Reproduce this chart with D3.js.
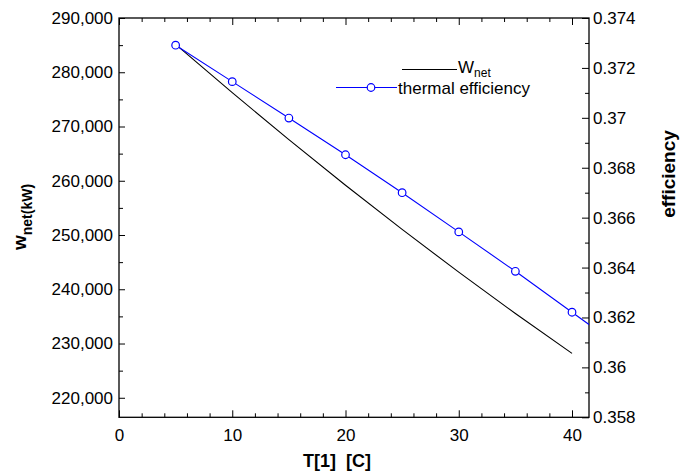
<!DOCTYPE html>
<html>
<head>
<meta charset="utf-8">
<script src="https://cdn.jsdelivr.net/npm/d3@7/dist/d3.min.js"></script>
<style>
  html, body { margin: 0; padding: 0; background: #fff; }
  svg { display: block; font-family: "Liberation Sans", Arial, sans-serif; }
</style>
</head>
<body>
<svg id="chart" width="686" height="472"></svg>
<script>
// ---- data ----
const temps = [5, 10, 15, 20, 25, 30, 35, 40];
const wNet = [285150, 276230, 267570, 259170, 251030, 243150, 235530, 228180];
const effTemps = [5, 10, 15, 20, 25, 30, 35, 40, 45];
const efficiency = [0.37291, 0.37145, 0.36999, 0.36852, 0.36700, 0.36543, 0.36385, 0.36221, 0.36057];

const xTicks = [0, 10, 20, 30, 40];
const xMinorTicks = [2, 4, 6, 8, 12, 14, 16, 18, 22, 24, 26, 28, 32, 34, 36, 38];
const yLeftTicks = [220000, 230000, 240000, 250000, 260000, 270000, 280000, 290000];
const yLeftTickLabels = ["220,000", "230,000", "240,000", "250,000", "260,000", "270,000", "280,000", "290,000"];
const yLeftMinorTicks = [225000, 235000, 245000, 255000, 265000, 275000, 285000];
const yRightTicks = [0.358, 0.360, 0.362, 0.364, 0.366, 0.368, 0.370, 0.372, 0.374];
const yRightTickLabels = ["0.358", "0.36", "0.362", "0.364", "0.366", "0.368", "0.37", "0.372", "0.374"];
const yRightMinorTicks = [0.359, 0.361, 0.363, 0.365, 0.367, 0.369, 0.371, 0.373];

const seriesNames = ["W", "thermal efficiency"];

// ---- layout ----
const L = 119, T = 18, R = 589, B = 417.3;
const svg = d3.select("#chart");

const x = d3.scaleLinear().domain([0, 41.5]).range([L, R]);
const yL = d3.scaleLinear().domain([216400, 290000]).range([B, T]);
const yR = d3.scaleLinear().domain([0.358, 0.374]).range([B, T]);

const FS = 17;

function styleAxis(g) {
  g.selectAll("path.domain").remove();
  g.selectAll(".tick line").attr("stroke", "#000").attr("stroke-width", 1);
  g.selectAll(".tick text").attr("font-size", FS).attr("fill", "#000")
    .attr("font-family", "'Liberation Sans', Arial, sans-serif");
}

// bottom axis
svg.append("g").attr("transform", `translate(0,${B})`)
  .call(d3.axisBottom(x).tickValues(xTicks).tickSize(-7).tickPadding(12).tickFormat(d3.format("d")))
  .call(styleAxis);
svg.append("g").attr("transform", `translate(0,${B})`)
  .call(d3.axisBottom(x).tickValues(xMinorTicks).tickSize(-4).tickFormat(""))
  .call(styleAxis);
// top axis
svg.append("g").attr("transform", `translate(0,${T})`)
  .call(d3.axisTop(x).tickValues(xTicks).tickSize(-7).tickFormat(""))
  .call(styleAxis);
svg.append("g").attr("transform", `translate(0,${T})`)
  .call(d3.axisTop(x).tickValues(xMinorTicks).tickSize(-4).tickFormat(""))
  .call(styleAxis);
// left axis
svg.append("g").attr("transform", `translate(${L},0)`)
  .call(d3.axisLeft(yL).tickValues(yLeftTicks).tickSize(-6).tickPadding(6)
    .tickFormat((d, i) => yLeftTickLabels[i]))
  .call(styleAxis);
svg.append("g").attr("transform", `translate(${L},0)`)
  .call(d3.axisLeft(yL).tickValues(yLeftMinorTicks).tickSize(-4).tickFormat(""))
  .call(styleAxis);
// right axis
svg.append("g").attr("transform", `translate(${R},0)`)
  .call(d3.axisRight(yR).tickValues(yRightTicks).tickSize(-7).tickPadding(4)
    .tickFormat((d, i) => yRightTickLabels[i]))
  .call(styleAxis);
svg.append("g").attr("transform", `translate(${R},0)`)
  .call(d3.axisRight(yR).tickValues(yRightMinorTicks).tickSize(-4).tickFormat(""))
  .call(styleAxis);

// frame
svg.append("rect").attr("x", L).attr("y", T).attr("width", R - L).attr("height", B - T)
  .attr("fill", "none").attr("stroke", "#000").attr("stroke-width", 1.3);

// clip
svg.append("clipPath").attr("id", "plotclip").append("rect")
  .attr("x", L).attr("y", T).attr("width", R - L).attr("height", B - T);

const plot = svg.append("g").attr("clip-path", "url(#plotclip)");

// W_net line
plot.append("path")
  .datum(temps.map((t, i) => [t, wNet[i]]))
  .attr("fill", "none").attr("stroke", "#000").attr("stroke-width", 1.1)
  .attr("d", d3.line().x(d => x(d[0])).y(d => yL(d[1])));

// efficiency line
const effData = effTemps.map((t, i) => [t, efficiency[i]]);
plot.append("path")
  .datum(effData)
  .attr("fill", "none").attr("stroke", "#0000ff").attr("stroke-width", 1.1)
  .attr("d", d3.line().x(d => x(d[0])).y(d => yR(d[1])));
plot.selectAll("circle.m").data(effData).enter().append("circle")
  .attr("class", "m")
  .attr("cx", d => x(d[0])).attr("cy", d => yR(d[1])).attr("r", 3.8)
  .attr("fill", "#fff").attr("stroke", "#0000ff").attr("stroke-width", 1.2);

// legend
const lg = svg.append("g");
lg.append("line").attr("x1", 402).attr("x2", 457).attr("y1", 69.5).attr("y2", 69.5)
  .attr("stroke", "#000").attr("stroke-width", 1.1);
const t1 = lg.append("text").attr("x", 458).attr("y", 73).attr("font-size", FS).attr("fill", "#000");
t1.append("tspan").text(seriesNames[0]);
t1.append("tspan").attr("font-size", 12).attr("dy", 3.5).text("net");

lg.append("line").attr("x1", 336).attr("x2", 397).attr("y1", 87.5).attr("y2", 87.5)
  .attr("stroke", "#0000ff").attr("stroke-width", 1.1);
lg.append("circle").attr("cx", 371).attr("cy", 87.5).attr("r", 3.8)
  .attr("fill", "#fff").attr("stroke", "#0000ff").attr("stroke-width", 1.2);
lg.append("text").attr("x", 398).attr("y", 94).attr("font-size", FS).attr("fill", "#000")
  .text(seriesNames[1]);

// axis titles
svg.append("text").attr("x", 337).attr("y", 467).attr("text-anchor", "middle")
  .attr("font-size", 18).attr("font-weight", "bold").attr("fill", "#000")
  .style("white-space", "pre").text("T[1]  [C]");

const yt = svg.append("text").attr("transform", "translate(25.5,217) rotate(-90)")
  .attr("text-anchor", "middle").attr("font-weight", "bold").attr("fill", "#000");
yt.append("tspan").attr("font-size", 19).text("w");
yt.append("tspan").attr("font-size", 14).attr("dy", 6).text("net(kW)");

svg.append("text").attr("transform", "translate(675,174) rotate(-90)")
  .attr("text-anchor", "middle").attr("font-size", 19).attr("font-weight", "bold").attr("fill", "#000")
  .text("efficiency");
</script>
</body>
</html>
